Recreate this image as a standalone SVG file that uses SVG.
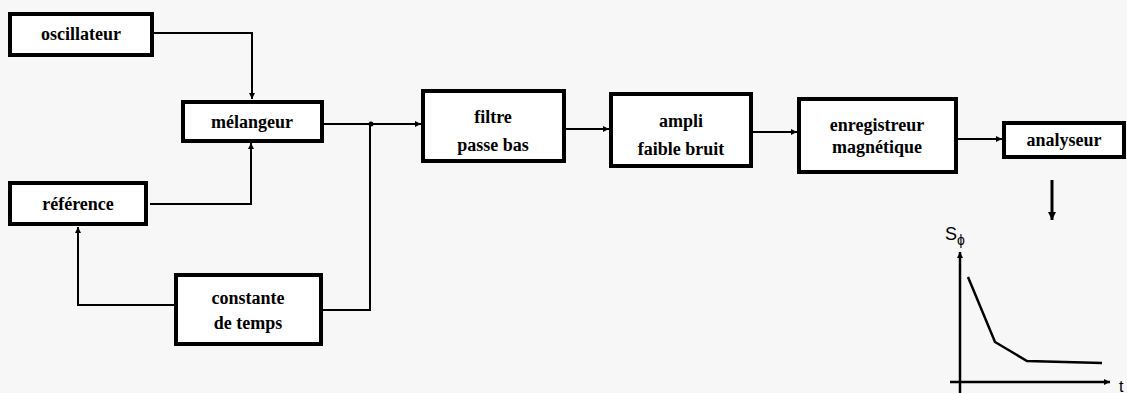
<svg xmlns="http://www.w3.org/2000/svg" width="1127" height="393" viewBox="0 0 1127 393">
<defs>
<style>
.box{fill:#fff;stroke:#000;stroke-width:4}
.t{font-family:"Liberation Serif",serif;font-size:18px;font-weight:bold;text-anchor:middle;fill:#000}
.c{fill:none;stroke:#000;stroke-width:2}
</style>
<marker id="ah" viewBox="0 0 10 10" refX="10" refY="5" markerWidth="9" markerHeight="6" orient="auto" markerUnits="userSpaceOnUse"><path d="M0,0L10,5L0,10z" fill="#000"/></marker>
<marker id="ahb" viewBox="0 0 10 10" refX="10" refY="5" markerWidth="11" markerHeight="8" orient="auto" markerUnits="userSpaceOnUse"><path d="M0,0L10,5L0,10z" fill="#000"/></marker>
</defs>
<rect width="1127" height="393" fill="#f7f7f7"/>
<g id="connectors">
<path class="c" d="M153,33H252V99" marker-end="url(#ah)"/>
<path class="c" d="M150,204H251V143" marker-end="url(#ah)"/>
<path class="c" d="M175,305H78V227" marker-end="url(#ah)"/>
<path class="c" d="M323,310H370V124"/>
<path class="c" d="M323,124H421" marker-end="url(#ah)"/>
<circle cx="371" cy="124" r="2.5" fill="#000"/>
<path class="c" d="M566,129H609" marker-end="url(#ah)"/>
<path class="c" d="M753,132H797" marker-end="url(#ah)"/>
<path class="c" d="M958,139H1002" marker-end="url(#ah)"/>
<path fill="none" stroke="#000" stroke-width="3" d="M1052,180V220" marker-end="url(#ahb)"/>
</g>
<g id="oscillateur"><rect class="box" x="10" y="14" width="142" height="41"/><text class="t" x="81" y="40">oscillateur</text></g>
<g id="melangeur"><rect class="box" x="183" y="102" width="139" height="39"/><text class="t" x="252" y="128">mélangeur</text></g>
<g id="reference"><rect class="box" x="10" y="183" width="136" height="41"/><text class="t" x="78" y="210">référence</text></g>
<g id="constante"><rect class="box" x="176" y="275" width="145" height="69"/><text class="t" x="248" y="304">constante</text><text class="t" x="248" y="329">de temps</text></g>
<g id="filtre"><rect class="box" x="423" y="91" width="141" height="70"/><text class="t" x="493" y="123">filtre</text><text class="t" x="493" y="151">passe bas</text></g>
<g id="ampli"><rect class="box" x="611" y="94" width="140" height="72"/><text class="t" x="681" y="127">ampli</text><text class="t" x="681" y="155">faible bruit</text></g>
<g id="enregistreur"><rect class="box" x="799" y="99" width="157" height="73"/><text class="t" x="877" y="131">enregistreur</text><text class="t" x="877" y="153">magnétique</text></g>
<g id="analyseur"><rect class="box" x="1004" y="123" width="120" height="34"/><text class="t" x="1064" y="146">analyseur</text></g>
<g id="graph">
<path fill="none" stroke="#000" stroke-width="2.5" d="M960,393V252" marker-end="url(#ah)"/>
<path fill="none" stroke="#000" stroke-width="2.5" d="M950,382H1110" marker-end="url(#ah)"/>
<path fill="none" stroke="#000" stroke-width="2.5" d="M968,277L995,342L1027,361L1102,363"/>
<text x="945" y="240" font-family="Liberation Sans,sans-serif" font-size="18">S<tspan font-size="14" dy="5">ϕ</tspan></text>
<text x="1119" y="392" font-family="Liberation Sans,sans-serif" font-size="16">t</text>
</g>
</svg>
